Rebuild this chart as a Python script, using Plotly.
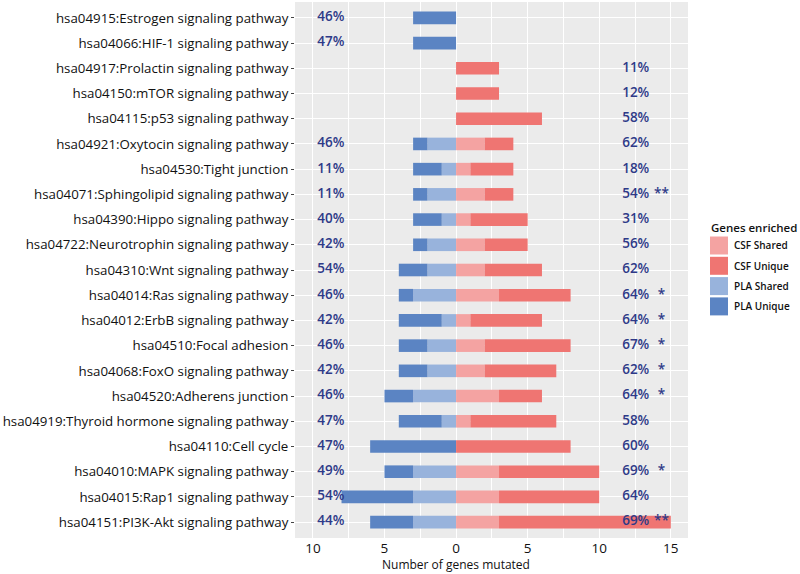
import plotly.graph_objects as go

pathways = [
    "hsa04915:Estrogen signaling pathway",
    "hsa04066:HIF-1 signaling pathway",
    "hsa04917:Prolactin signaling pathway",
    "hsa04150:mTOR signaling pathway",
    "hsa04115:p53 signaling pathway",
    "hsa04921:Oxytocin signaling pathway",
    "hsa04530:Tight junction",
    "hsa04071:Sphingolipid signaling pathway",
    "hsa04390:Hippo signaling pathway",
    "hsa04722:Neurotrophin signaling pathway",
    "hsa04310:Wnt signaling pathway",
    "hsa04014:Ras signaling pathway",
    "hsa04012:ErbB signaling pathway",
    "hsa04510:Focal adhesion",
    "hsa04068:FoxO signaling pathway",
    "hsa04520:Adherens junction",
    "hsa04919:Thyroid hormone signaling pathway",
    "hsa04110:Cell cycle",
    "hsa04010:MAPK signaling pathway",
    "hsa04015:Rap1 signaling pathway",
    "hsa04151:PI3K-Akt signaling pathway",
]

pla_unique = [3, 3, 0, 0, 0, 1, 2, 1, 2, 1, 2, 1, 3, 2, 2, 2, 3, 6, 2, 5, 3]
pla_shared = [0, 0, 0, 0, 0, 2, 1, 2, 1, 2, 2, 3, 1, 2, 2, 3, 1, 0, 3, 3, 3]
csf_shared = [0, 0, 0, 0, 0, 2, 1, 2, 1, 2, 2, 3, 1, 2, 2, 3, 1, 0, 3, 3, 3]
csf_unique = [0, 0, 3, 3, 6, 2, 3, 2, 4, 3, 4, 5, 5, 6, 5, 3, 6, 8, 7, 7, 12]

pla_pct = ["46%", "47%", "", "", "", "46%", "11%", "11%", "40%", "42%", "54%",
           "46%", "42%", "46%", "42%", "46%", "47%", "47%", "49%", "54%", "44%"]
csf_pct = ["", "", "11%", "12%", "58%", "62%", "18%", "54%", "31%", "56%", "62%",
           "64%", "64%", "67%", "62%", "64%", "58%", "60%", "69%", "64%", "69%"]
csf_sig = ["", "", "", "", "", "", "", "**", "", "", "",
           "*", "*", "*", "*", "*", "", "", "*", "", "**"]

x_tickvals = [-10, -5, 0, 5, 10, 15]
x_ticktext = ["10", "5", "0", "5", "10", "15"]

legend_names = ["CSF Shared", "CSF Unique", "PLA Shared", "PLA Unique"]
colors = {
    "CSF Shared": "#f4a3a2",
    "CSF Unique": "#ef7572",
    "PLA Shared": "#98b3dc",
    "PLA Unique": "#5b84c3",
}
label_color = "#2e3a88"
font_family = "Open Sans, Noto Sans, DejaVu Sans, sans-serif"

fig = go.Figure()
bar_w = 0.5
fig.add_trace(go.Bar(y=pathways, x=[-v for v in pla_shared], orientation="h",
                     marker=dict(color=colors["PLA Shared"], line=dict(width=0)),
                     width=bar_w, showlegend=False))
fig.add_trace(go.Bar(y=pathways, x=[-v for v in pla_unique], orientation="h",
                     marker=dict(color=colors["PLA Unique"], line=dict(width=0)),
                     width=bar_w, showlegend=False))
fig.add_trace(go.Bar(y=pathways, x=csf_shared, orientation="h",
                     marker=dict(color=colors["CSF Shared"], line=dict(width=0)),
                     width=bar_w, showlegend=False))
fig.add_trace(go.Bar(y=pathways, x=csf_unique, orientation="h",
                     marker=dict(color=colors["CSF Unique"], line=dict(width=0)),
                     width=bar_w, showlegend=False))

lab_font = dict(family=font_family, size=13.5, color=label_color, weight=600)
fig.add_trace(go.Scatter(y=pathways, x=[-8.75] * len(pathways), text=pla_pct,
                         mode="text", textfont=lab_font, textposition="middle center",
                         showlegend=False, hoverinfo="skip"))
fig.add_trace(go.Scatter(y=pathways, x=[12.55] * len(pathways), text=csf_pct,
                         mode="text", textfont=lab_font, textposition="middle center",
                         showlegend=False, hoverinfo="skip"))
fig.add_trace(go.Scatter(y=pathways, x=[14.35] * len(pathways), text=csf_sig,
                         mode="text", textfont=lab_font, textposition="middle center",
                         showlegend=False, hoverinfo="skip"))

# Manual legend (ggplot style)
L, R, T, B = 295, 112, 2, 36
pw, ph = 800 - L - R, 574 - T - B

def px(xp):
    return (xp - L) / pw

def py(yp):
    return (574 - B - yp) / ph

shapes = []
annotations = [
    dict(x=px(709), y=py(227), xref="paper", yref="paper", text="Genes enriched",
         showarrow=False, xanchor="left", yanchor="middle",
         font=dict(family=font_family, size=11.5, color="#111", weight=600)),
    dict(x=px(456), y=py(564), xref="paper", yref="paper", text="Number of genes mutated",
         showarrow=False, xanchor="center", yanchor="middle",
         font=dict(family=font_family, size=12, color="#111")),
]
for i, name in enumerate(legend_names):
    yc = 245.5 + i * 20.3
    shapes.append(dict(type="rect", xref="paper", yref="paper",
                       x0=px(710), x1=px(728), y0=py(yc + 9), y1=py(yc - 9),
                       fillcolor=colors[name], line=dict(width=0)))
    annotations.append(dict(x=px(732), y=py(yc), xref="paper", yref="paper", text=name,
                            showarrow=False, xanchor="left", yanchor="middle",
                            font=dict(family=font_family, size=10, color="#111", weight=600)))

fig.update_layout(
    width=800, height=574,
    margin=dict(l=L, r=R, t=T, b=B, autoexpand=False),
    paper_bgcolor="white",
    plot_bgcolor="#ebebeb",
    barmode="relative",
    bargap=0.5,
    font=dict(family=font_family, color="#111"),
    shapes=shapes,
    annotations=annotations,
    xaxis=dict(
        range=[-11.25, 16.2],
        tickvals=x_tickvals, ticktext=x_ticktext,
        ticks="",
        tickfont=dict(size=13.5, color="#111"),
        showgrid=True, gridcolor="white", gridwidth=1.3,
        minor=dict(dtick=2.5, showgrid=True, gridcolor="white", gridwidth=0.6),
        zeroline=False, automargin=False,
        fixedrange=True,
    ),
    yaxis=dict(
        categoryorder="array", categoryarray=pathways,
        autorange=False, range=[len(pathways) - 1 + 0.63, -0.63],
        ticks="outside", ticklen=3, tickcolor="#444",
        tickfont=dict(size=13.3, color="#111"),
        showgrid=True, gridcolor="white", gridwidth=1.2,
        zeroline=False, automargin=False,
        fixedrange=True,
    ),
)

fig.write_html("out.html", config={"displayModeBar": False},
               post_script="document.body.style.margin='0';document.body.style.padding='0';")
